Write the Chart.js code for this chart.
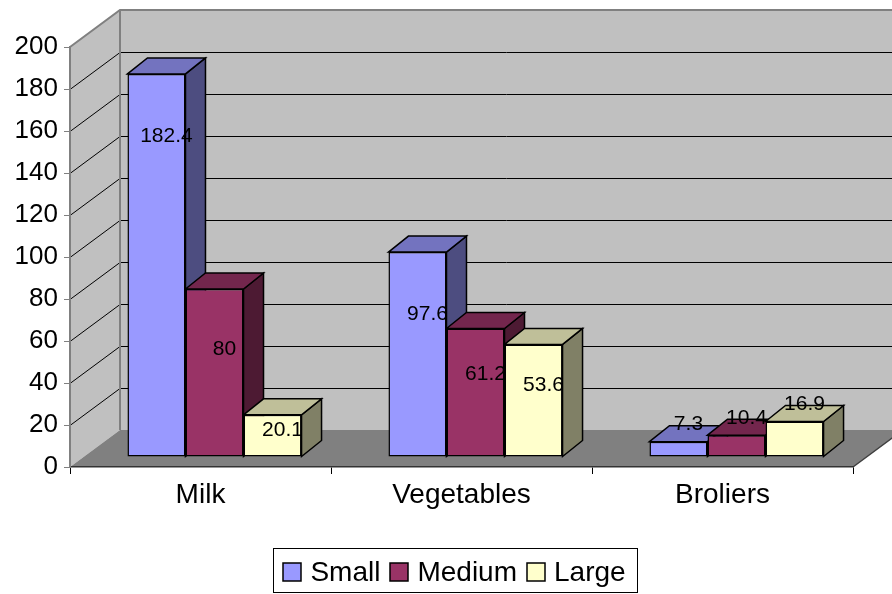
<!DOCTYPE html>
<html>
<head>
<meta charset="utf-8">
<script src="https://cdn.jsdelivr.net/npm/chart.js@4.4.1/dist/chart.umd.min.js"></script>
<style>
  html, body { margin: 0; padding: 0; background: #fff; }
</style>
</head>
<body>
<canvas id="chart" width="892" height="594"></canvas>
<script>
// chart data
const categories = ['Milk', 'Vegetables', 'Broliers'];
const seriesNames = ['Small', 'Medium', 'Large'];
const smallValues = [182.4, 97.6, 7.3];
const mediumValues = [80, 61.2, 10.4];
const largeValues = [20.1, 53.6, 16.9];
const yTicks = [0, 20, 40, 60, 80, 100, 120, 140, 160, 180, 200];

const seriesColors = ['#9999FF', '#993366', '#FFFFCC'];
const FONT = '"Liberation Sans", Arial, sans-serif';

// 3D look
const WALL_DX = 50, WALL_DY = -37;   // depth of the walls
const SHIFT_X = 14, SHIFT_Y = -10;   // bars sit in the middle of the floor
const BAR_DX = 20, BAR_DY = -16;     // depth of each bar

function shade(hex, f) {
    const n = parseInt(hex.slice(1), 16);
    const r = Math.round(((n >> 16) & 255) * f);
    const g = Math.round(((n >> 8) & 255) * f);
    const b = Math.round((n & 255) * f);
    return `rgb(${r}, ${g}, ${b})`;
}

function poly(ctx, pts, fill, stroke, lw) {
    ctx.beginPath();
    ctx.moveTo(pts[0][0], pts[0][1]);
    for (let i = 1; i < pts.length; i++) ctx.lineTo(pts[i][0], pts[i][1]);
    ctx.closePath();
    if (fill) { ctx.fillStyle = fill; ctx.fill(); }
    if (stroke) { ctx.strokeStyle = stroke; ctx.lineWidth = lw || 1; ctx.stroke(); }
}

const walls = {
    id: 'walls',
    beforeDraw(chart) {
        const ctx = chart.ctx;
        const a = chart.chartArea;
        const y = chart.scales.y;
        const top = y.getPixelForValue(yTicks[yTicks.length - 1]);
        const bottom = y.getPixelForValue(0);
        const far = a.right + WALL_DX;
        ctx.save();
        // back wall + left wall
        poly(ctx, [[a.left + WALL_DX, top + WALL_DY], [far, top + WALL_DY], [far, bottom + WALL_DY], [a.left + WALL_DX, bottom + WALL_DY]], '#C0C0C0');
        poly(ctx, [[a.left, top], [a.left + WALL_DX, top + WALL_DY], [a.left + WALL_DX, bottom + WALL_DY], [a.left, bottom]], '#C0C0C0');
        // grid lines
        ctx.strokeStyle = '#000';
        ctx.lineWidth = 1;
        yTicks.slice(1, -1).forEach(v => {
            const py = Math.round(y.getPixelForValue(v)) + 0.5;
            ctx.beginPath();
            ctx.moveTo(a.left, py);
            ctx.lineTo(a.left + WALL_DX, py + WALL_DY);
            ctx.lineTo(far, py + WALL_DY);
            ctx.stroke();
        });
        // wall edges
        ctx.strokeStyle = '#808080';
        ctx.lineWidth = 2;
        ctx.beginPath();
        ctx.moveTo(a.left, top);
        ctx.lineTo(a.left + WALL_DX, top + WALL_DY);
        ctx.lineTo(far, top + WALL_DY);
        ctx.moveTo(a.left + WALL_DX, top + WALL_DY);
        ctx.lineTo(a.left + WALL_DX, bottom + WALL_DY);
        ctx.stroke();
        // floor
        poly(ctx, [[a.left, bottom], [a.left + WALL_DX, bottom + WALL_DY], [far, bottom + WALL_DY], [a.right, bottom]], '#808080');
        ctx.strokeStyle = '#404040';
        ctx.lineWidth = 1.5;
        ctx.beginPath();
        ctx.moveTo(a.right, bottom);
        ctx.lineTo(far, bottom + WALL_DY);
        ctx.stroke();
        ctx.restore();
    },
    beforeDatasetsDraw(chart) {
        const ctx = chart.ctx;
        ctx.save();
        ctx.translate(SHIFT_X, SHIFT_Y);
        // tops and sides first, then the library draws the fronts over them
        categories.forEach((c, j) => {
            chart.data.datasets.forEach((ds, i) => {
                const bar = chart.getDatasetMeta(i).data[j];
                const { x, y, base, width } = bar.getProps(['x', 'y', 'base', 'width'], true);
                const l = x - width / 2, r = x + width / 2;
                const col = seriesColors[i];
                poly(ctx, [[r, y], [r + BAR_DX, y + BAR_DY], [r + BAR_DX, base + BAR_DY], [r, base]], shade(col, 0.5), '#000', 1.5);
                poly(ctx, [[l, y], [l + BAR_DX, y + BAR_DY], [r + BAR_DX, y + BAR_DY], [r, y]], shade(col, 0.75), '#000', 1.5);
            });
        });
    },
    afterDatasetsDraw(chart) {
        const ctx = chart.ctx;
        // value labels, still in the shifted space
        ctx.font = '21px ' + FONT;
        ctx.fillStyle = '#000';
        ctx.textAlign = 'center';
        ctx.textBaseline = 'middle';
        chart.data.datasets.forEach((ds, i) => {
            chart.getDatasetMeta(i).data.forEach((bar, j) => {
                const { x, y, base } = bar.getProps(['x', 'y', 'base'], true);
                const h = base - y;
                const ly = h >= 40 ? y + Math.min(62, h * 0.36) : y - 17;
                ctx.fillText(String(ds.data[j]), x + 10, ly);
            });
        });
        ctx.restore();
    },
    afterDraw(chart) {
        const ctx = chart.ctx;
        const a = chart.chartArea;
        ctx.save();
        ctx.font = '28px ' + FONT;
        const sw = 18, gapIn = 9, gapOut = 10;
        const widths = seriesNames.map(n => ctx.measureText(n).width);
        const total = widths.reduce((s, w) => s + sw + gapIn + w, 0) + gapOut * (seriesNames.length - 1);
        const cx = (a.left + a.right) / 2 - 7;
        const cy = 572;
        let x = cx - total / 2;
        ctx.strokeStyle = '#000';
        ctx.lineWidth = 1;
        ctx.strokeRect(Math.round(x - 10) + 0.5, 548.5, Math.round(total + 22), 44);
        ctx.textBaseline = 'middle';
        ctx.textAlign = 'left';
        seriesNames.forEach((n, i) => {
            ctx.fillStyle = seriesColors[i];
            ctx.fillRect(Math.round(x), cy - 9, sw, sw);
            ctx.lineWidth = 1.5;
            ctx.strokeRect(Math.round(x), cy - 9, sw, sw);
            ctx.fillStyle = '#000';
            ctx.fillText(n, x + sw + gapIn, cy + 1);
            x += sw + gapIn + widths[i] + gapOut;
        });
        ctx.restore();
    }
};

const canvas = document.getElementById('chart');

new Chart(canvas, {
    type: 'bar',
    data: {
        labels: categories,
        datasets: [smallValues, mediumValues, largeValues].map((vals, i) => ({
            label: seriesNames[i],
            data: vals,
            backgroundColor: seriesColors[i],
            borderColor: '#000',
            borderWidth: 1.5,
            borderSkipped: false,
            categoryPercentage: 0.667,
            barPercentage: 1.0,
            clip: false
        }))
    },
    options: {
        responsive: false,
        animation: false,
        devicePixelRatio: 1,
        events: [],
        layout: { padding: { left: 0, top: 47, right: 39, bottom: 67 } },
        plugins: {
            legend: { display: false },
            tooltip: { enabled: false }
        },
        scales: {
            x: {
                afterFit: s => { s.height = 60; },
                grid: { drawOnChartArea: false, offset: true, tickLength: 7, color: '#000' },
                border: { color: '#333', width: 1.5 },
                ticks: { color: '#000', font: { size: 28, family: FONT }, padding: 4 }
            },
            y: {
                min: 0,
                max: 200,
                afterFit: s => { s.width = 70; },
                afterBuildTicks: s => { s.ticks = yTicks.map(v => ({ value: v })); },
                grid: { drawOnChartArea: false, tickLength: 6, color: '#808080' },
                border: { color: '#808080', width: 2 },
                ticks: { color: '#000', font: { size: 26, family: FONT }, padding: 6 }
            }
        }
    },
    plugins: [walls]
});
</script>
</body>
</html>
